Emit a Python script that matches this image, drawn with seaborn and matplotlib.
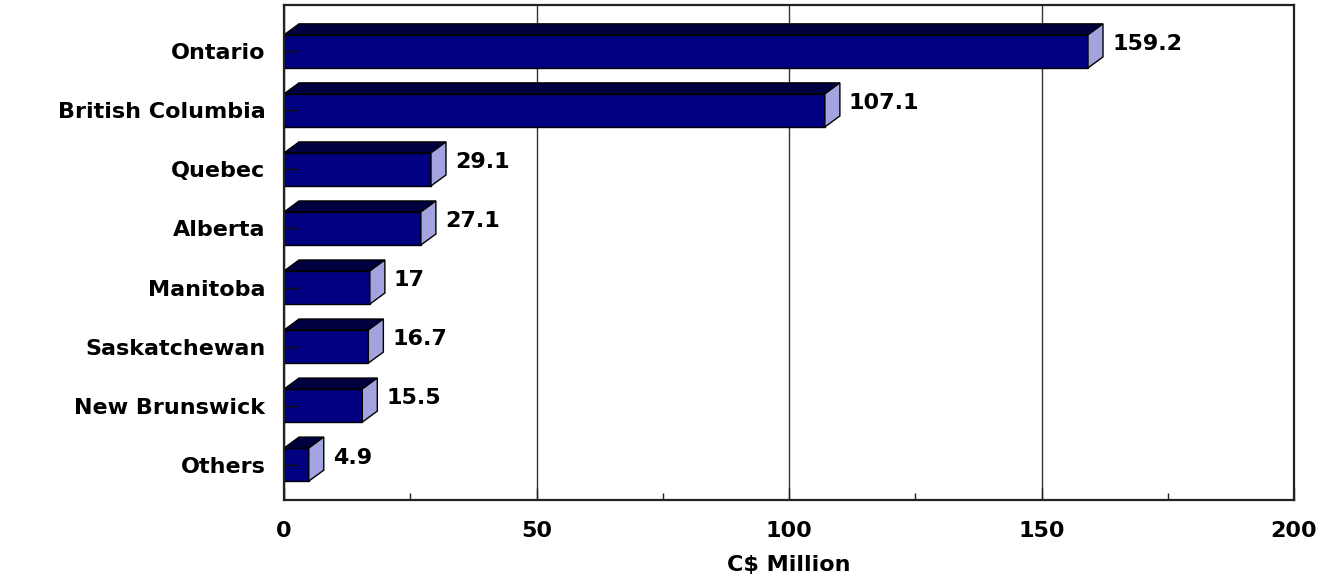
import matplotlib
matplotlib.use("Agg")
import matplotlib.pyplot as plt
import seaborn as sns
import pandas as pd
from matplotlib.patches import Polygon
from matplotlib.ticker import MultipleLocator

provinces = ["Ontario", "British Columbia", "Quebec", "Alberta", "Manitoba",
             "Saskatchewan", "New Brunswick", "Others"]
values = [159.2, 107.1, 29.1, 27.1, 17, 16.7, 15.5, 4.9]
x_ticks = [0, 50, 100, 150, 200]
x_label = "C$ Million"

FRONT = "#000080"
TOP = "#000040"
SIDE = "#A3A3E0"
FS = 16

sns.set_style("white")
plt.rcParams["font.family"] = ["DejaVu Sans"]
plt.rcParams["font.weight"] = "bold"
plt.rcParams["text.color"] = "black"
plt.rcParams["xtick.labelcolor"] = "black"
plt.rcParams["ytick.labelcolor"] = "black"

df = pd.DataFrame({"province": provinces, "value": values})

fig = plt.figure(figsize=(13.26, 5.78), dpi=100)
ax = fig.add_axes([0.2142, 0.1349, 0.9759 - 0.2142, 0.9913 - 0.1349])

sns.barplot(data=df, x="value", y="province", orient="h", color=FRONT,
            saturation=1, width=0.56, edgecolor="black", linewidth=1.0,
            ax=ax, zorder=2)

# 3D depth (in data units)
dx, dy = 2.97, 0.186
for p, v in zip(ax.patches, values):
    x0, y0 = p.get_x(), p.get_y()
    w, h = p.get_width(), p.get_height()
    top = Polygon([(x0, y0), (x0 + w, y0), (x0 + w + dx, y0 - dy), (x0 + dx, y0 - dy)],
                  closed=True, facecolor=TOP, edgecolor="black", linewidth=1.0, zorder=2)
    side = Polygon([(x0 + w, y0), (x0 + w, y0 + h), (x0 + w + dx, y0 + h - dy),
                    (x0 + w + dx, y0 - dy)],
                   closed=True, facecolor=SIDE, edgecolor="black", linewidth=1.0, zorder=2)
    ax.add_patch(top)
    ax.add_patch(side)
    ax.text(x0 + w + dx + 1.8, y0 + h / 2 - 0.12, f"{v:g}", ha="left", va="center",
            fontsize=FS, fontweight="bold", color="black", zorder=4)

ax.set_xlim(0, 200)
ax.set_ylim(7.6, -0.785)
ax.set_xticks(x_ticks)
ax.set_xticklabels([str(t) for t in x_ticks])
ax.xaxis.set_minor_locator(MultipleLocator(25))
ax.grid(axis="x", which="major", color="#333333", linewidth=1.0)
ax.grid(axis="y", visible=False)
ax.xaxis.set_zorder(0.5)
ax.yaxis.set_zorder(5)

ax.tick_params(axis="x", which="major", direction="in", length=8.6, width=1.0,
               color="#222222", labelsize=FS, pad=15, bottom=True)
ax.tick_params(axis="x", which="minor", direction="in", length=5, width=1.0,
               color="#222222", bottom=True)
ax.tick_params(axis="y", which="major", direction="in", length=11, width=1.0,
               color="#111111", labelsize=FS, pad=13.5, left=True)
for lbl in ax.get_xticklabels() + ax.get_yticklabels():
    lbl.set_fontweight("bold")
    lbl.set_color("black")

ax.set_ylabel("")
ax.set_xlabel(x_label, fontsize=FS, fontweight="bold", labelpad=10, color="black")

for s in ax.spines.values():
    s.set_visible(True)
    s.set_color("#222222")
    s.set_linewidth(1.6)

fig.savefig("out.png", dpi=100)
